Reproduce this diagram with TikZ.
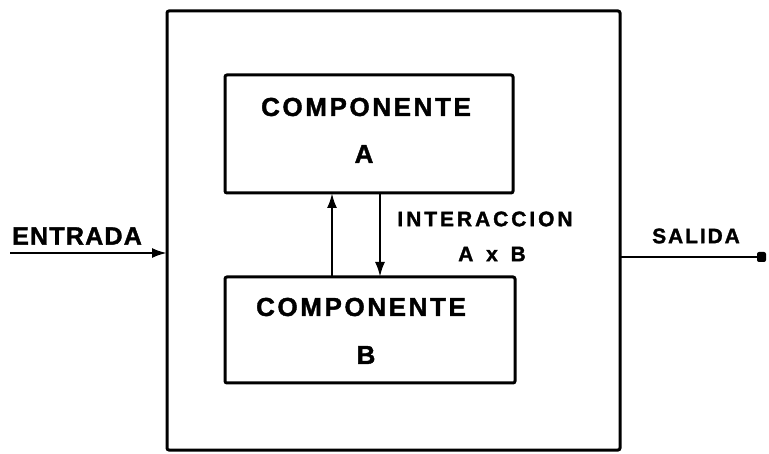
\documentclass[tikz,border=0pt]{standalone}
\usepackage{fontspec}
\setmainfont{Liberation Sans}
\usetikzlibrary{arrows.meta}
\begin{document}
\begin{tikzpicture}[x=1pt,y=-1pt,
  box/.style={draw,line width=3pt,rounded corners=2pt,inner sep=0pt,outer sep=0pt},
  big/.style={font=\fontsize{26}{28}\selectfont\bfseries\addfontfeature{LetterSpace=10,FakeBold=1.5},inner sep=0pt},
  small/.style={font=\fontsize{21}{24}\selectfont\bfseries\addfontfeature{LetterSpace=14,FakeBold=1.5},inner sep=0pt},
  conn/.style={line width=2.4pt,-{Latex[length=15pt,width=10pt]}}]
\useasboundingbox (0,0) rectangle (769,454);
\node[box,minimum width=453pt,minimum height=439pt] (S) at (393.5,230.5) {};
\node[box,minimum width=288pt,minimum height=118pt] (A) at (369,134) {};
\node[box,minimum width=290pt,minimum height=106pt] (B) at (370,330) {};
\draw[conn] (B.south west |- B.north) ++(107,0) coordinate (b1) -- (b1 |- A.south);
\draw[conn] (B.south west |- A.south) ++(155,0) coordinate (a1) -- (a1 |- B.north);
\node[big] (ca) at (366,107) {COMPONENTE};
\node[big] (la) at (364,154) {A};
\node[big] (cb) at (361,307) {COMPONENTE};
\node[big] (lb) at (366,355) {B};
\node[small] (int) at (485,219) {INTERACCION};
\node[small] (axb) at (492,254) {A\hspace{4pt} x\hspace{4pt} B};
\node[font=\fontsize{25}{28}\selectfont\bfseries\addfontfeature{LetterSpace=5,FakeBold=1.5},inner sep=0pt] (ent) at (77,236) {ENTRADA};
\node[font=\fontsize{21}{24}\selectfont\bfseries\addfontfeature{LetterSpace=9,FakeBold=1.5},inner sep=0pt] (sal) at (696,236) {SALIDA};
\coordinate (in) at (10,253);
\draw[conn] (in) -- (in -| S.west);
\coordinate (oute) at (760,257);
\draw[line width=2.4pt] (S.east |- oute) -- (oute);
\fill[rounded corners=2pt] (oute) ++(-3,-5) rectangle ++(9,10);
\end{tikzpicture}
\end{document}
